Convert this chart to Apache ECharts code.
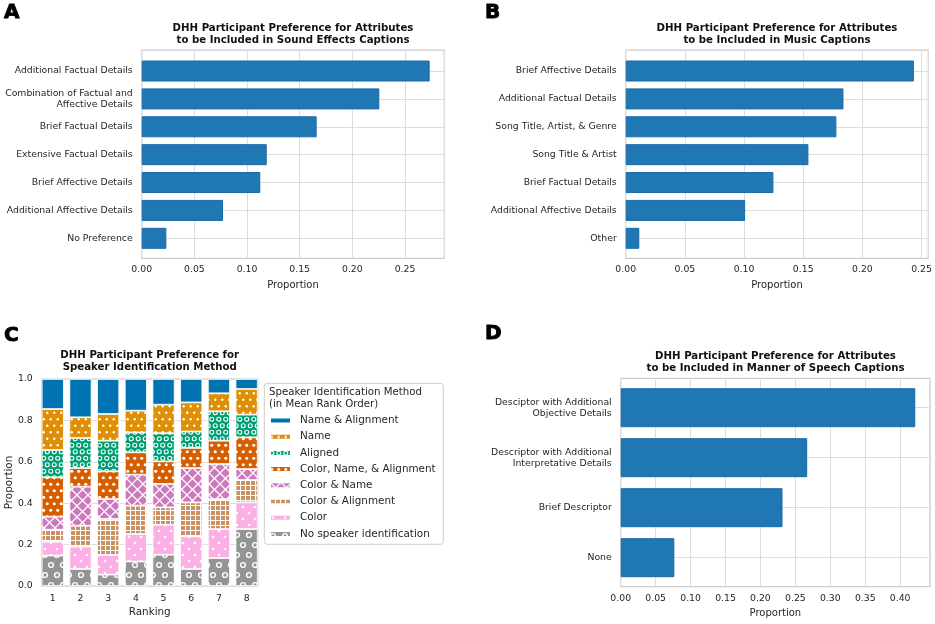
<!DOCTYPE html>
<html><head><meta charset="utf-8">
<script src="https://cdn.jsdelivr.net/npm/echarts@6/dist/echarts.min.js"></script>
<style>html,body{margin:0;padding:0;background:#fff}#c{width:935px;height:624px}</style>
</head><body><div id="c"></div><script>
// ---------- data ----------
const soundCats = ['Additional Factual Details','Combination of Factual and\nAffective Details','Brief Factual Details','Extensive Factual Details','Brief Affective Details','Additional Affective Details','No Preference'];
const soundVals = [0.2734,0.2256,0.1661,0.1187,0.1126,0.0772,0.0234];

const musicCats = ['Brief Affective Details','Additional Factual Details','Song Title, Artist, & Genre','Song Title & Artist','Brief Factual Details','Additional Affective Details','Other'];
const musicVals = [0.2435,0.1840,0.1780,0.1544,0.1248,0.1009,0.0115];

const speechCats = ['Desciptor with Additional\nObjective Details','Descriptor with Additional\nInterpretative Details','Brief Descriptor','None'];
const speechVals = [0.4216,0.2669,0.2316,0.0768];

const rankings = ['1','2','3','4','5','6','7','8'];
const nameAlign      = [0.145,0.185,0.169,0.153,0.124,0.113,0.069,0.048];
const nameOnly       = [0.198,0.100,0.129,0.105,0.138,0.141,0.087,0.124];
const aligned        = [0.132,0.145,0.148,0.096,0.136,0.079,0.142,0.110];
const colorNameAlign = [0.190,0.090,0.134,0.108,0.109,0.097,0.113,0.153];
const colorName      = [0.063,0.189,0.096,0.150,0.113,0.166,0.169,0.053];
const colorAlign     = [0.058,0.101,0.174,0.137,0.084,0.164,0.145,0.108];
const colorOnly      = [0.067,0.108,0.095,0.133,0.145,0.158,0.140,0.129];
const noSpeaker      = [0.147,0.082,0.055,0.118,0.151,0.082,0.135,0.275];
const methodNames = ['Name & Alignment','Name','Aligned','Color, Name, & Alignment','Color & Name','Color & Alignment','Color','No speaker identification'];

// ---------- styles ----------
const FONT = 'DejaVu Sans';
const TXT = '#262626';
const GRID = '#dddddd';
const SPINE = '#cccccc';
const BLUE = '#1f77b4';

function pat(bg, w, h, draw) {
  const c = document.createElement('canvas');
  c.width = w; c.height = h;
  const g = c.getContext('2d');
  g.fillStyle = bg; g.fillRect(0, 0, w, h);
  g.fillStyle = '#fff'; g.strokeStyle = '#fff';
  draw(g, w, h);
  return { image: c, repeat: 'repeat' };
}
function wrap(w, h, x, y, fn) {
  for (let dx = -1; dx <= 1; dx++) for (let dy = -1; dy <= 1; dy++) fn(x + dx * w, y + dy * h);
}
function dots(g, w, h, pts, r) {
  pts.forEach(p => wrap(w, h, p[0], p[1], (x, y) => { g.beginPath(); g.arc(x, y, r, 0, Math.PI * 2); g.fill(); }));
}
function rings(g, w, h, pts, r, lw) {
  g.lineWidth = lw;
  pts.forEach(p => wrap(w, h, p[0], p[1], (x, y) => { g.beginPath(); g.arc(x, y, r, 0, Math.PI * 2); g.stroke(); }));
}
const stag = [[1.75, 3.25], [5.25, 9.75]];

const patterns = [
  '#0173b2',
  pat('#de8f05', 7, 13, (g, w, h) => dots(g, w, h, stag, 1.2)),
  pat('#029e73', 7, 13, (g, w, h) => rings(g, w, h, stag, 2.0, 1.1)),
  pat('#d55e00', 7, 13, (g, w, h) => dots(g, w, h, stag, 1.55)),
  pat('#cc78bc', 11, 11, (g) => { g.lineWidth = 1.3; g.beginPath(); g.moveTo(-1,-1); g.lineTo(12,12); g.moveTo(12,-1); g.lineTo(-1,12); g.stroke(); }),
  pat('#ca9161', 5, 5, (g) => { g.fillRect(0, 0, 1, 5); g.fillRect(0, 0, 5, 1); }),
  pat('#fbafe4', 12, 12, (g, w, h) => dots(g, w, h, [[3, 3], [9, 9]], 1.3)),
  pat('#949494', 12, 20, (g, w, h) => rings(g, w, h, [[3, 5], [9, 15]], 2.4, 1.4))
];
const methodData = [nameAlign, nameOnly, aligned, colorNameAlign, colorName, colorAlign, colorOnly, noSpeaker];

const grids = [], xAxes = [], yAxes = [], series = [];
const fmt2 = v => (Math.abs(v / 0.05 - Math.round(v / 0.05)) < 1e-6 ? v.toFixed(2) : '');

function hbarPanel(frame, dataTop, dataBottom, cats, vals, xmax, barW) {
  const gf = grids.length;
  grids.push({ left: frame.left, top: frame.top, width: frame.width, height: frame.height, show: true, borderColor: SPINE, borderWidth: 1.25, backgroundColor: 'transparent' });
  xAxes.push({ gridIndex: gf, type: 'value', min: 0, max: xmax, interval: 0.05,
    axisLine: { show: false }, axisTick: { show: false },
    splitLine: { show: true, lineStyle: { color: GRID, width: 1.1 } },
    axisLabel: { formatter: fmt2, fontSize: 9.3, color: TXT, margin: 7, fontFamily: FONT },
    name: 'Proportion', nameLocation: 'middle', nameGap: 22, nameTextStyle: { fontSize: 10, color: TXT, fontFamily: FONT } });
  yAxes.push({ gridIndex: gf, type: 'value', show: false });
  const gd = grids.length;
  grids.push({ left: frame.left, top: dataTop, width: frame.width, height: dataBottom - dataTop });
  xAxes.push({ gridIndex: gd, type: 'value', min: 0, max: xmax, show: false });
  yAxes.push({ gridIndex: gd, type: 'category', data: cats, inverse: true, boundaryGap: false,
    axisLine: { show: false }, axisTick: { show: false },
    splitLine: { show: true, lineStyle: { color: GRID, width: 1.1 } },
    axisLabel: { fontSize: 9.3, color: TXT, margin: 9, lineHeight: 11, fontFamily: FONT } });
  series.push({ type: 'bar', xAxisIndex: gd, yAxisIndex: gd, data: vals, barWidth: barW, clip: false, silent: true,
    itemStyle: { color: BLUE, borderColor: '#1a6aa6', borderWidth: 1 } });
}

// Panel A
hbarPanel({ left: 141.7, top: 50, width: 302.6, height: 208.3 }, 71, 238.3, soundCats, soundVals, 0.2873, 21);
// Panel B
hbarPanel({ left: 625.7, top: 50, width: 302.6, height: 208.3 }, 71, 238.3, musicCats, musicVals, 0.2557, 21);

// Panel C
(function () {
  const gf = grids.length;
  grids.push({ left: 41.7, top: 379, width: 216, height: 207, show: true, borderColor: SPINE, borderWidth: 1.25, backgroundColor: 'transparent' });
  xAxes.push({ gridIndex: gf, type: 'value', min: 0, max: 1, show: false });
  yAxes.push({ gridIndex: gf, type: 'value', min: 0, max: 1, interval: 0.2,
    axisLine: { show: false }, axisTick: { show: false },
    splitLine: { show: true, lineStyle: { color: GRID, width: 1.1 } },
    axisLabel: { formatter: v => v.toFixed(1), fontSize: 9.3, color: TXT, margin: 9, fontFamily: FONT },
    name: 'Proportion', nameLocation: 'middle', nameGap: 26, nameTextStyle: { fontSize: 10.4, color: TXT, fontFamily: FONT } });
  const unit = 216 / 7.8;
  const gd = grids.length;
  grids.push({ left: 41.7 - 0.1 * unit, top: 379, width: unit * 8, height: 207 });
  xAxes.push({ gridIndex: gd, type: 'category', data: rankings,
    axisLine: { show: false }, axisTick: { show: false }, splitLine: { show: false },
    axisLabel: { fontSize: 9.3, color: TXT, margin: 8, fontFamily: FONT },
    name: 'Ranking', nameLocation: 'middle', nameGap: 21, nameTextStyle: { fontSize: 10.4, color: TXT, fontFamily: FONT } });
  yAxes.push({ gridIndex: gd, type: 'value', min: 0, max: 1, show: false });
  for (let i = methodNames.length - 1; i >= 0; i--) {
    series.push({ type: 'bar', name: methodNames[i], stack: 'rank', xAxisIndex: gd, yAxisIndex: gd,
      data: methodData[i], barWidth: '80%', silent: true,
      itemStyle: { color: patterns[i], borderColor: '#ffffff', borderWidth: 0.8 } });
  }
})();

// Panel D
hbarPanel({ left: 620.7, top: 378.3, width: 309.3, height: 208.4 }, 407.7, 557.7, speechCats, speechVals, 0.4427, 39);

const titleStyle = (t, x, y) => ({ type: 'text', x: x, y: y, silent: true,
  style: { text: t, fontSize: 10.2, fontWeight: 'bold', fontFamily: FONT, fill: '#111', align: 'center', verticalAlign: 'top', lineHeight: 12 } });
const letter = (t, x, y) => ({ type: 'text', x: x, y: y, silent: true,
  style: { text: t, fontSize: 20, fontWeight: 'bold', fontFamily: FONT, fill: '#000', stroke: '#000', lineWidth: 0.9, align: 'left', verticalAlign: 'top' } });

const graphic = [
  letter('A', 4, 3), letter('B', 485, 3), letter('C', 4, 326), letter('D', 485, 324),
  titleStyle('DHH Participant Preference for Attributes\nto be Included in Sound Effects Captions', 293, 22),
  titleStyle('DHH Participant Preference for Attributes\nto be Included in Music Captions', 777, 22),
  titleStyle('DHH Participant Preference for\nSpeaker Identification Method', 149.7, 349.7),
  titleStyle('DHH Participant Preference for Attributes\nto be Included in Manner of Speech Captions', 775.5, 350.5),
  { type: 'rect', shape: { x: 264.3, y: 383.3, width: 179, height: 161, r: 3 }, silent: true, z: -1,
    style: { fill: '#ffffff', stroke: SPINE, lineWidth: 1 } },
  { type: 'text', x: 269, y: 386.8, silent: true,
    style: { text: 'Speaker Identification Method\n(in Mean Rank Order)', fontSize: 10.2, fontFamily: FONT, fill: TXT, align: 'left', verticalAlign: 'top', lineHeight: 11.6 } }
];

const chart = echarts.init(document.getElementById('c'), null, { renderer: 'canvas' });
chart.setOption({
  animation: false,
  backgroundColor: '#ffffff',
  textStyle: { fontFamily: FONT },
  grid: grids, xAxis: xAxes, yAxis: yAxes, series: series,
  legend: { data: methodNames, orient: 'vertical', left: 269, top: 414, padding: 0,
    itemWidth: 21, itemHeight: 6, itemGap: 3.2, icon: 'rect', selectedMode: false,
    textStyle: { fontSize: 10.4, lineHeight: 13, color: TXT, fontFamily: FONT, padding: [0, 0, 0, 4] } },
  graphic: graphic
});
</script></body></html>
